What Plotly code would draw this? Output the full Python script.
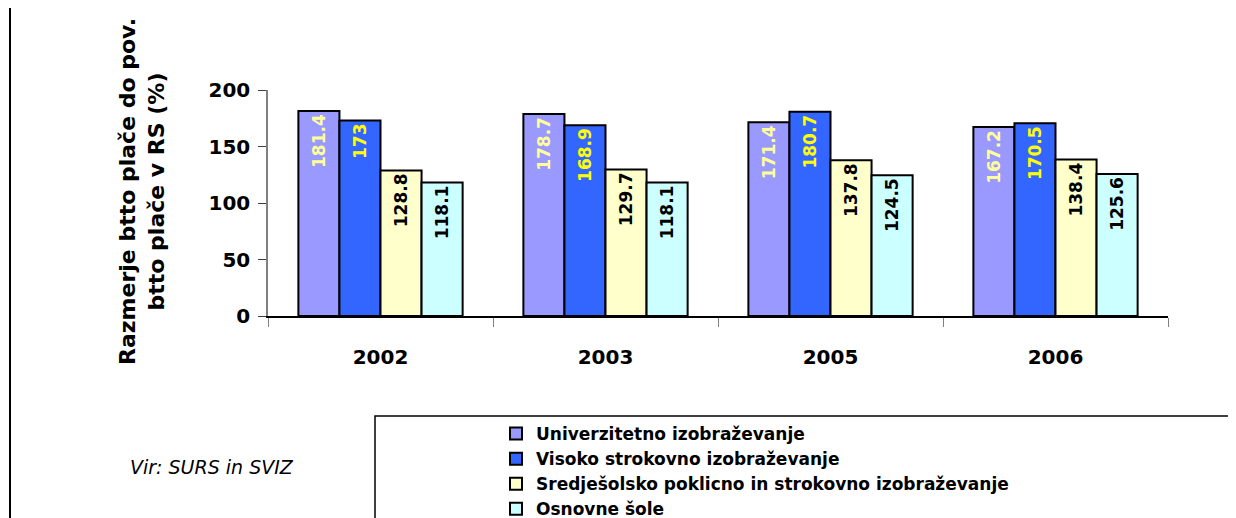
import plotly.graph_objects as go

years = ["2002", "2003", "2005", "2006"]
univerzitetno = [181.4, 178.7, 171.4, 167.2]
visoko = [173, 168.9, 180.7, 170.5]
srednje = [128.8, 129.7, 137.8, 138.4]
osnovne = [118.1, 118.1, 124.5, 125.6]

series = [
    ("Univerzitetno izobraževanje", univerzitetno, "#9999FF", "#FFFF99"),
    ("Visoko strokovno izobraževanje", visoko, "#3366FF", "#FFFF00"),
    ("Sredješolsko poklicno in strokovno izobraževanje", srednje, "#FFFFCC", "#000000"),
    ("Osnovne šole", osnovne, "#CCFFFF", "#000000"),
]

FONT = "DejaVu Sans, Arial"
OFF = 8  # default page body margin
W, H = 1236 - OFF, 518 - OFF
L, R, T, B = 268 - OFF, 68, 90 - OFF, 202
pw, ph = W - L - R, H - T - B


def px(x):
    # x given in screenshot pixels
    return (x - OFF - L) / pw


def py(y):
    return (H - B - (y - OFF)) / ph


fig = go.Figure()
for name, vals, col, tcol in series:
    fig.add_trace(go.Bar(
        name=name, x=years, y=vals,
        marker=dict(color=col, line=dict(color="#000000", width=2)),
        text=[str(v) for v in vals],
        textposition="inside", insidetextanchor="end", textangle=-90,
        constraintext="none",
        textfont=dict(family=FONT, size=17, color=tcol, weight="bold"),
    ))

fig.update_layout(
    width=W, height=H,
    margin=dict(l=L, r=R, t=T, b=B, autoexpand=False),
    paper_bgcolor="white", plot_bgcolor="white",
    barmode="group", bargap=0.27, bargroupgap=0,
    font=dict(family=FONT, color="#000000"),
    showlegend=True,
    legend=dict(
        x=px(496), y=py(416), xanchor="left", yanchor="top",
        font=dict(family=FONT, size=17, weight="bold"), bgcolor="rgba(0,0,0,0)",
        tracegroupgap=0, itemwidth=30,
    ),
    xaxis=dict(
        showline=True, linecolor="#000000", linewidth=1.5,
        ticks="outside", tickson="boundaries", ticklen=9, tickcolor="#808080",
        tickfont=dict(family=FONT, size=20, weight="bold"), ticklabelstandoff=22,
        showgrid=False,
    ),
    yaxis=dict(
        range=[0, 200], tickvals=[0, 50, 100, 150, 200],
        showline=True, linecolor="#808080", linewidth=1.5,
        ticks="outside", ticklen=8, tickcolor="#404040",
        tickfont=dict(family=FONT, size=20, weight="bold"), ticklabelstandoff=4,
        showgrid=False, zeroline=False,
    ),
    shapes=[
        dict(type="line", xref="paper", yref="paper",
             x0=px(10), x1=px(10), y0=py(-10), y1=py(530),
             line=dict(color="#000000", width=2)),
        dict(type="rect", xref="paper", yref="paper",
             x0=px(375), x1=px(1260), y0=py(416), y1=py(540),
             line=dict(color="#000000", width=1.5), fillcolor="rgba(0,0,0,0)"),
    ],
    annotations=[
        dict(text="Razmerje btto plače do pov.<br>btto plače v RS (%)",
             xref="paper", yref="paper", x=px(142), y=py(192),
             xanchor="center", yanchor="middle", textangle=-90, showarrow=False,
             font=dict(family=FONT, size=22, weight="bold")),
        dict(text="<i>Vir: SURS in SVIZ</i>", xref="paper", yref="paper",
             x=px(212), y=py(467), xanchor="center", yanchor="middle",
             showarrow=False, font=dict(family=FONT, size=19)),
    ],
)

fig.write_html("out.html")
